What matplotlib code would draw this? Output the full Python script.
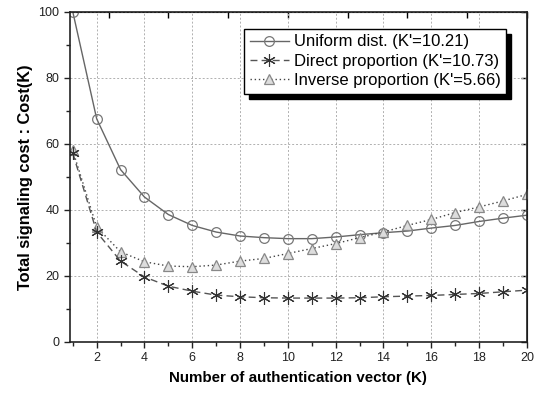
import numpy as np
import matplotlib
matplotlib.use('Agg')
import matplotlib.pyplot as plt
from matplotlib.ticker import MultipleLocator
from matplotlib.patches import Rectangle

plt.rcParams['font.family'] = ['Liberation Sans', 'DejaVu Sans']

# values
K = list(range(1, 21))
uniform = [100, 67.6, 52.2, 43.9, 38.6, 35.3, 33.3, 32.1, 31.6, 31.3,
           31.3, 31.8, 32.5, 33.1, 33.6, 34.5, 35.3, 36.5, 37.5, 38.4]
direct = [57.2, 33.3, 24.5, 19.7, 16.9, 15.4, 14.2, 13.7, 13.4, 13.3,
          13.3, 13.3, 13.4, 13.7, 13.9, 14.1, 14.4, 14.7, 15.2, 15.7]
inverse = [58.0, 34.8, 27.3, 24.3, 23.0, 22.8, 23.3, 24.5, 25.3, 26.8,
           28.3, 29.8, 31.6, 33.3, 35.3, 37.1, 39.2, 40.9, 42.7, 44.7]
labels = ["Uniform dist. (K'=10.21)", "Direct proportion (K'=10.73)",
          "Inverse proportion (K'=5.66)"]

fig = plt.figure(figsize=(5.42, 3.94), dpi=100)
ax = fig.add_axes([0.129, 0.132, 0.843, 0.838])

ax.plot(K, uniform, color='#666666', lw=1.0, ls='-', marker='o', ms=7,
        mfc='none', mec='#777777', mew=0.9, label=labels[0])
ax.plot(K, inverse, color='#444444', lw=1.0, ls=(0, (1, 2)), marker='^', ms=7,
        mfc='#dddddd', mec='#888888', mew=0.9, label=labels[2])
ax.plot(K, direct, color='#555555', lw=1.0, ls=(0, (5, 3)), marker=(6, 2, 0),
        ms=9, mec='#333333', mew=0.8, label=labels[1])

ax.set_xlim(0.88, 20)
ax.set_ylim(0, 100)
ax.xaxis.set_major_locator(MultipleLocator(2))
ax.xaxis.set_minor_locator(MultipleLocator(1))
ax.yaxis.set_major_locator(MultipleLocator(20))
ax.yaxis.set_minor_locator(MultipleLocator(10))
ax.tick_params(which='both', direction='out', labelsize=9, colors='#222222',
               width=1.0)
ax.tick_params(which='major', length=4)
ax.tick_params(which='minor', length=3)

# mirrored ticks pointing inward on top and right
for sec in (ax.secondary_xaxis('top'), ax.secondary_yaxis('right')):
    sec.tick_params(which='both', direction='in', width=1.0)
    sec.tick_params(which='major', length=4)
    sec.tick_params(which='minor', length=3)
    for lbl in sec.get_xticklabels() + sec.get_yticklabels():
        lbl.set_visible(False)

ax.grid(True, which='major', color='#b0b0b0', ls=(0, (2, 2)), lw=0.7)
for s in ax.spines.values():
    s.set_linewidth(1.2)
    s.set_color('#222222')

ax.set_xlabel('Number of authentication vector (K)', fontsize=10.9,
              fontweight='bold', labelpad=5)
ax.set_ylabel('Total signaling cost : Cost(K)', fontsize=11.8,
              fontweight='bold', labelpad=4)

h, l = ax.get_legend_handles_labels()
order = [0, 2, 1]
leg = ax.legend([h[i] for i in order], [l[i] for i in order],
                loc='upper right', bbox_to_anchor=(0.955, 0.949), fontsize=12,
                frameon=True, fancybox=False, edgecolor='black', framealpha=1,
                handlelength=2.3, handletextpad=0.3, borderpad=0.35,
                labelspacing=0.25, borderaxespad=0)
leg.get_frame().set_linewidth(1.0)
leg.set_zorder(10)

# hard black drop shadow behind the legend box
fig.canvas.draw()
bb = leg.get_frame().get_window_extent().transformed(ax.transAxes.inverted())
dx, dy = 5 / 457, 5 / 331
ax.add_patch(Rectangle((bb.x0 + dx, bb.y0 - dy), bb.width, bb.height,
                       transform=ax.transAxes, color='black', zorder=9,
                       clip_on=False))

fig.savefig('out.png', dpi=100)
